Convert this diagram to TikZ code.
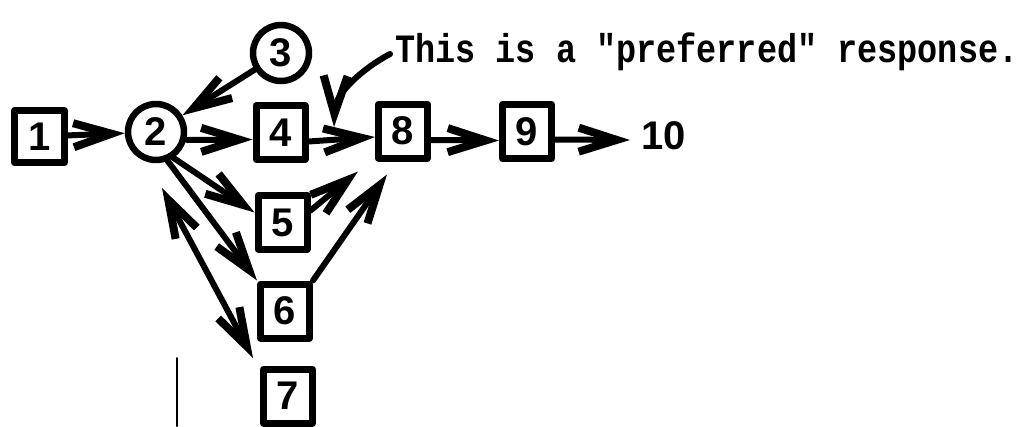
\documentclass[tikz,border=0pt]{standalone}
\usepackage{fontspec}
\usepackage{graphicx}
\usetikzlibrary{arrows.meta}
\newfontfamily\digitfont{Liberation Sans}
\newfontfamily\typefont{Liberation Mono}
\begin{document}
\begin{tikzpicture}[x=1pt,y=-1pt,
  line join=round, line cap=round,
  numfont/.style={font=\digitfont\bfseries\fontsize{40}{40}\selectfont},
  box/.style={draw, line width=7pt, minimum width=49pt, minimum height=54pt, inner sep=0pt, numfont},
  circ/.style={draw, circle, line width=6.5pt, minimum size=56pt, inner sep=0pt, numfont},
  tipstyle/.style={},
  arr/.style={line width=6pt, -{Straight Barb[length=38pt,width=24pt,line width=8pt]}},
  dbl/.style={line width=6pt, {Straight Barb[length=38pt,width=24pt,line width=8pt]}-{Straight Barb[length=38pt,width=24pt,line width=8pt]}},
  note/.style={anchor=base west, inner sep=0pt, font=\typefont\bfseries\fontsize{33.5}{40}\selectfont}
]
\useasboundingbox (0,0) rectangle (1028,426);

% nodes
\node[box, minimum width=50pt, minimum height=52pt] (n1) at (39.5,136.5) {1};
\node[circ] (n2) at (156,132) {2};
\node[circ] (n3) at (281,53) {3};
\node[box] (n4) at (280.5,132.5) {4};
\node[box] (n5) at (282.5,222.5) {5};
\node[box] (n6) at (285,311) {6};
\node[box] (n7) at (288,396) {7};
\node[box] (n8) at (403,131) {8};
\node[box] (n9) at (527,131.5) {9};
\node[numfont, anchor=west, inner sep=0pt, inner xsep=11pt] (n10) at (630,136) {10};

\node[note] (txt) at (395,62) {\scalebox{1}[1.2]{This is a "preferred" response.}};
\coordinate (tip) at (334,127);

% connectors
\draw[arr] (n1) -- (n2);
\draw[arr] (n3) -- (n2);
\draw[arr] ([yshift=-8pt]n2.east) -- ([yshift=-7pt]n4.west);
\draw[arr] ([yshift=-9pt]n4.east) -- ([yshift=-6pt]n8.west);
\draw[arr] ([yshift=-9pt]n8.east) -- ([yshift=-9pt]n9.west);
\draw[arr] ([yshift=-8pt]n9.east) -- ([yshift=-4pt]n10.west);
\draw[arr] (n2.-56) -- ([yshift=10pt]n5.west);
\draw[arr] (n2.-68) -- (n6.north west);
\draw[dbl] ([shift={(6pt,-56pt)}]n2.center) -- ([shift={(-35pt,38pt)}]n7.center);
\draw[arr] ([yshift=12pt]n5.east) -- ([shift={(-17pt,-10pt)}]n8.south west);
\draw[arr] (n6.north east) -- ([shift={(-16pt,-13pt)}]n8.south);
\draw[arr] ([shift={(-5pt,8pt)}]txt.base west) .. controls (360,70) and (335,95) .. (tip);

% stray mark
\draw[line width=2pt] (177,358) -- (177,426);
\end{tikzpicture}
\end{document}
